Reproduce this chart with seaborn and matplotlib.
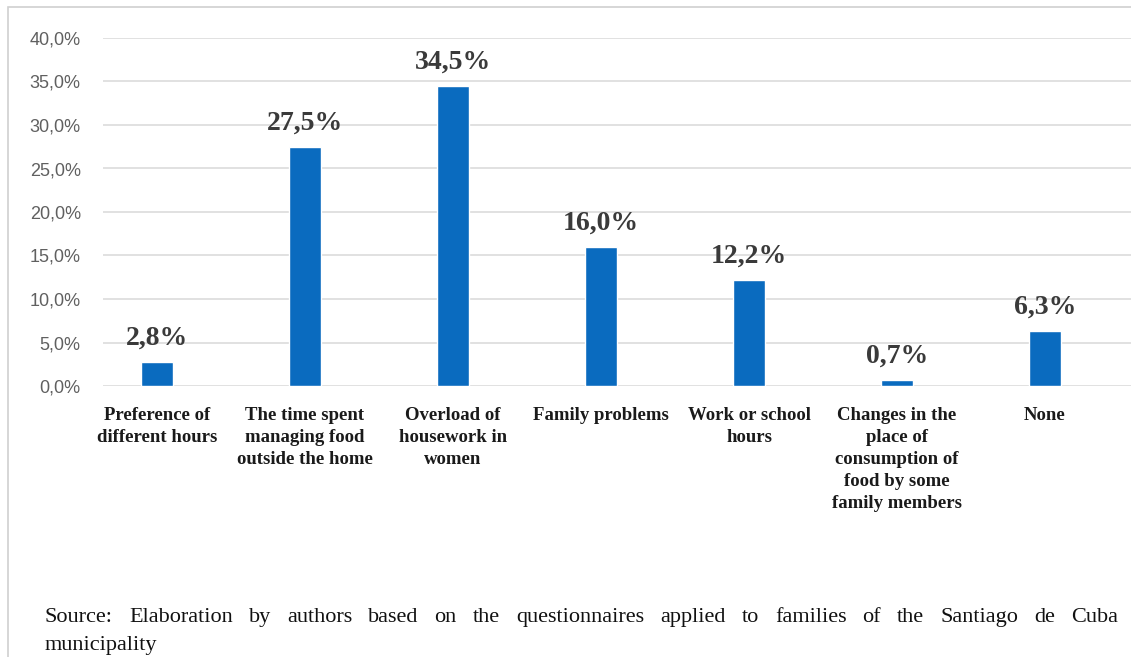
import numpy as np
import pandas as pd
import matplotlib
matplotlib.use('Agg')
import matplotlib.pyplot as plt
from matplotlib.ticker import FuncFormatter, MultipleLocator
from matplotlib.patches import Rectangle
import seaborn as sns

categories = ['Preference of\ndifferent hours',
              'The time spent\nmanaging food\noutside the home',
              'Overload of\nhousework in\nwomen',
              'Family problems',
              'Work or school\nhours',
              'Changes in the\nplace of\nconsumption of\nfood by some\nfamily members',
              'None']
values = [2.8, 27.5, 34.5, 16.0, 12.2, 0.7, 6.3]
source_line1 = 'Source: Elaboration by authors based on the questionnaires applied to families of the Santiago de Cuba'
source_line2 = 'municipality'

df = pd.DataFrame({'cat': categories, 'val': values})

sns.set_style('white')
plt.rcParams['font.family'] = ['Liberation Sans', 'DejaVu Sans']

W, H = 1131, 657
fig = plt.figure(figsize=(W / 100, H / 100), dpi=100)
fig.patch.set_facecolor('white')

# chart frame
fig.patches.append(Rectangle((8 / W, -0.05), 1.2, 1 - 7 / H + 0.05, transform=fig.transFigure,
                             fill=False, edgecolor='#d0d0d0', linewidth=1.2))

ax = fig.add_axes([103 / W, 1 - 386 / H, 1 - 103 / W, (386 - 38) / H])
sns.barplot(data=df, x='cat', y='val', color='#0A6BBF', width=0.22, saturation=1, ax=ax, zorder=3)

ax.set_ylim(0, 40)
ax.set_xlim(-0.365, (W - 157) / 148)
ax.yaxis.set_major_locator(MultipleLocator(5))
ax.yaxis.set_major_formatter(FuncFormatter(lambda v, p: f'{v:.1f}%'.replace('.', ',')))
ax.grid(axis='y', color='#dcdcdc', linewidth=1.2, zorder=0)
ax.set_axisbelow(True)
for s in ax.spines.values():
    s.set_visible(False)
ax.set_xlabel('')
ax.set_ylabel('')
ax.tick_params(axis='y', length=0, pad=16, labelsize=13, labelcolor='#606060')
ax.tick_params(axis='x', length=0, pad=15)
for lab in ax.get_xticklabels():
    lab.set_fontfamily('Liberation Serif')
    lab.set_fontweight('bold')
    lab.set_fontsize(13.5)
    lab.set_color('#1a1a1a')
    lab.set_linespacing(1.38)
    lab.set_verticalalignment('top')

for i, v in enumerate(values):
    ax.text(i, v + 1.3, f'{v:.1f}%'.replace('.', ','), ha='center', va='bottom',
            fontsize=20, fontweight='bold', family='Liberation Serif', color='#3a3a3a')

# source note, first line justified between x=45 and x=1118
renderer = fig.canvas.get_renderer()
words = source_line1.split(' ')
x0, x1 = 45, 1118
txts = [fig.text(0, 1 - 622 / H, w, ha='left', va='baseline', fontsize=16,
                 family='Liberation Serif', color='#111111') for w in words]
widths = [t.get_window_extent(renderer).width for t in txts]
gap = (x1 - x0 - sum(widths)) / (len(words) - 1)
x = x0
for t, w in zip(txts, widths):
    t.set_x(x / W)
    x += w + gap
fig.text(x0 / W, 1 - 650 / H, source_line2, ha='left', va='baseline', fontsize=16,
         family='Liberation Serif', color='#111111')

fig.savefig('out.png', dpi=100)
